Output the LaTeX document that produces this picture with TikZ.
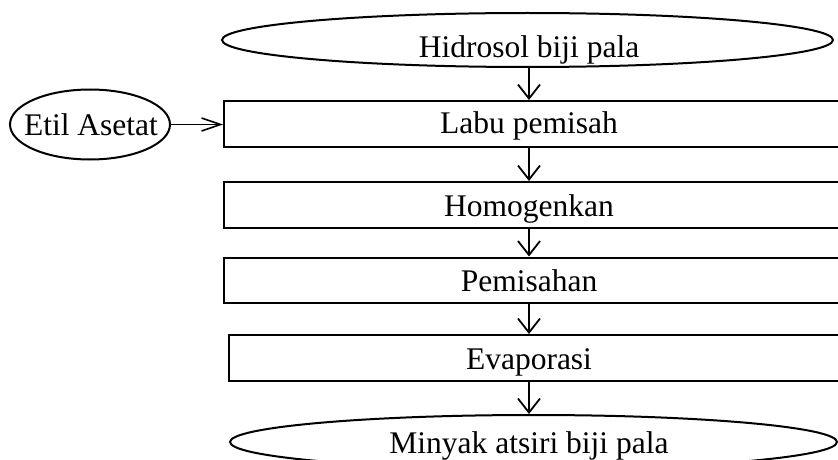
\documentclass[tikz,border=0pt]{standalone}
\usepackage{fontspec}
\setmainfont{Liberation Serif}
\usetikzlibrary{shapes.geometric,arrows.meta}
\begin{document}
\begin{tikzpicture}[x=1pt,y=-1pt,
  shapeline/.style={draw=black,line width=2pt},
  oval/.style={shapeline,ellipse,inner sep=0pt},
  stepbox/.style={shapeline,rectangle,inner sep=0pt},
  lbl/.style={anchor=base,inner sep=0pt,font=\fontsize{31.5}{37}\selectfont},
  downarrow/.style={line width=1.6pt,-{Straight Barb[length=14pt,width=22pt,line width=1.8pt]}},
  sidearrow/.style={line width=1.4pt,-{Straight Barb[length=19pt,width=13pt,line width=1.6pt]}}
]
\useasboundingbox (0,0) rectangle (838,460);
\fill[white] (0,0) rectangle (838,460);
\coordinate (ax) at (529,0);
% top ellipse
\node[oval,minimum width=611pt,minimum height=54pt] (hid) at (527.5,40) {};
\node[lbl] (thid) at (529,58) {Hidrosol biji pala};
% boxes
\node[stepbox,minimum width=626pt,minimum height=46pt] (labu) at (537,124) {};
\node[lbl] (tlabu) at (529,133) {Labu pemisah};
\node[stepbox,minimum width=626pt,minimum height=46pt] (homo) at (537,205) {};
\node[lbl] (thomo) at (529,216) {Homogenkan};
\node[stepbox,minimum width=626pt,minimum height=45pt] (pemi) at (537,280) {};
\node[lbl] (tpemi) at (529,291) {Pemisahan};
\node[stepbox,minimum width=621pt,minimum height=46pt] (evap) at (539.5,358) {};
\node[lbl] (tevap) at (529,369) {Evaporasi};
% bottom ellipse
\node[oval,minimum width=607pt,minimum height=54pt] (miny) at (533.5,442) {};
\node[lbl] (tminy) at (529,453) {Minyak atsiri biji pala};
% side ellipse
\node[oval,minimum width=160pt,minimum height=70pt] (etil) at (90,124.5) {};
\node[lbl] (tetil) at (91,135) {Etil Asetat};
% connectors
\draw[downarrow] (hid.south -| ax) -- (labu.north -| ax);
\draw[downarrow] (labu.south -| ax) -- (homo.north -| ax);
\draw[downarrow] (homo.south -| ax) -- (pemi.north -| ax);
\draw[downarrow] (pemi.south -| ax) -- (evap.north -| ax);
\draw[downarrow] (evap.south -| ax) -- (miny.north -| ax);
\draw[sidearrow] (etil.east) -- (etil.east -| labu.west);
\end{tikzpicture}
\end{document}
